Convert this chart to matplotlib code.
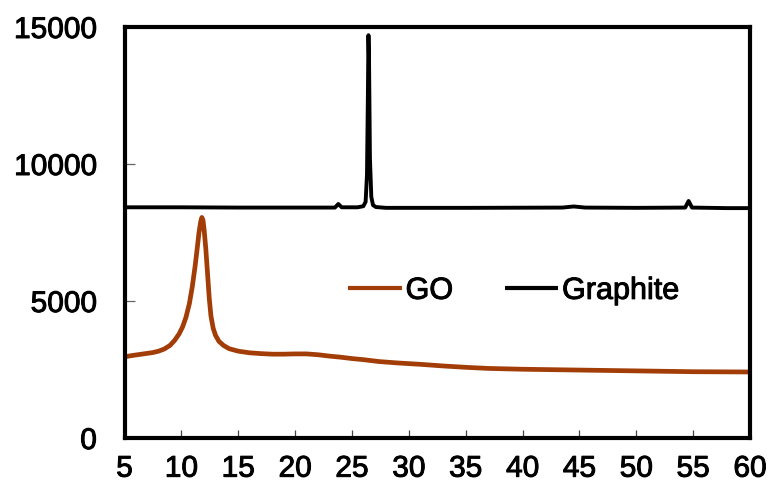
import matplotlib
matplotlib.use("Agg")
import matplotlib.pyplot as plt
import matplotlib.patheffects as pe

# XRD patterns: graphene oxide (GO) and pristine graphite
go_2theta = [5.0, 5.5, 6.0, 6.5, 7.0, 7.5, 8.0, 8.5, 9.0, 9.4, 9.8, 10.1, 10.4, 10.7,
             10.95, 11.2, 11.4, 11.55, 11.7, 11.8, 11.9, 12.0, 12.15, 12.3, 12.45,
             12.6, 12.8, 13.0, 13.3, 13.7, 14.2, 15.0, 16.0, 17.0, 18.0, 19.0, 20.0,
             21.0, 22.0, 23.0, 24.0, 25.0, 26.0, 27.4, 29.0, 31.0, 33.0, 35.0, 37.0,
             40.0, 45.0, 50.0, 55.0, 60.0]
go_intensity = [2960, 3000, 3030, 3060, 3090, 3120, 3170, 3250, 3380, 3560, 3800, 4050,
                4400, 4900, 5500, 6250, 6950, 7500, 7900, 8050, 7950, 7600, 6900, 6000,
                5100, 4450, 4000, 3750, 3530, 3380, 3260, 3170, 3110, 3080, 3060, 3060,
                3070, 3070, 3040, 2990, 2950, 2900, 2860, 2790, 2740, 2690, 2630, 2580,
                2540, 2510, 2480, 2450, 2420, 2410]

graphite_2theta = [5.0, 10.0, 15.0, 20.0, 23.5, 23.8, 24.1, 25.5, 26.0, 26.2, 26.32,
                   26.4, 26.45, 26.5, 26.58, 26.7, 26.85, 27.1, 28.0, 35.0, 43.5,
                   44.5, 45.5, 50.0, 54.3, 54.6, 54.9, 58.0, 60.0]
graphite_intensity = [8420, 8420, 8410, 8410, 8410, 8540, 8420, 8420, 8460, 8620, 9600,
                      12500, 14700, 13800, 10200, 8800, 8500, 8430, 8400, 8400, 8410,
                      8450, 8410, 8400, 8410, 8650, 8410, 8390, 8390]

x_ticks = [5, 10, 15, 20, 25, 30, 35, 40, 45, 50, 55, 60]
y_ticks = [0, 5000, 10000, 15000]

plt.rcParams['font.family'] = ['Liberation Sans', 'DejaVu Sans']

fig = plt.figure(figsize=(7.72, 4.99), dpi=100)
ax = fig.add_axes([0.1613, 0.1222, 0.8102, 0.8237])

ax.plot(go_2theta, go_intensity, color='#A33D08', lw=3.4, label='GO',
        solid_capstyle='butt', solid_joinstyle='round')
ax.plot(graphite_2theta, graphite_intensity, color='black', lw=2.8, label='Graphite',
        solid_capstyle='butt', solid_joinstyle='round')

ax.set_xlim(5, 60)
ax.set_ylim(0, 15000)
ax.set_xticks(x_ticks)
ax.set_yticks(y_ticks)
ax.set_xticklabels([str(v) for v in x_ticks])
ax.set_yticklabels([str(v) for v in y_ticks])

for s in ax.spines.values():
    s.set_linewidth(3.0)
    s.set_color('black')

ax.tick_params(axis='x', direction='in', length=6, width=0.9, color='#444444',
               pad=12, labelsize=21.5)
ax.tick_params(axis='y', direction='in', length=7, width=0.9, color='#666666',
               pad=20, labelsize=21.5)

heavy = [pe.withStroke(linewidth=0.7, foreground='black')]
for lbl in ax.get_xticklabels() + ax.get_yticklabels():
    lbl.set_path_effects(heavy)

leg = ax.legend(ncol=2, frameon=False, loc='center left',
                bbox_to_anchor=(0.358, 0.358), borderpad=0, borderaxespad=0,
                handlelength=1.75, handletextpad=0.12, columnspacing=1.7,
                fontsize=22)
for line in leg.get_lines():
    line.set_linewidth(3.0)
for t in leg.get_texts():
    t.set_path_effects(heavy)

fig.savefig('out.png', dpi=100)
